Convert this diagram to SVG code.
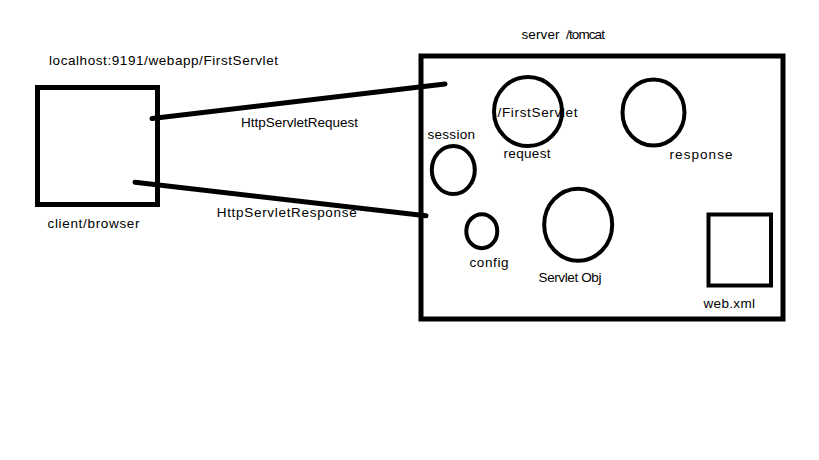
<svg xmlns="http://www.w3.org/2000/svg" width="819" height="460" viewBox="0 0 819 460">
<style>
.bg{fill:#fff}
.box{fill:none;stroke:#000;stroke-width:5}
.ell{fill:none;stroke:#000;stroke-width:4}
.wire{fill:none;stroke:#000;stroke-width:5;stroke-linecap:round}
text{font-family:"Liberation Sans",Arial,sans-serif;font-size:13.5px;fill:#000}
</style>
<rect class="bg" x="0" y="0" width="819" height="460"/>
<g id="client">
<rect class="box" x="37.5" y="87.5" width="120" height="117"/>
<text x="49" y="65" textLength="229">localhost:9191/webapp/FirstServlet</text>
<text x="47.5" y="228" textLength="92">client/browser</text>
</g>
<g id="server">
<rect class="box" x="421" y="56" width="362" height="263"/>
<text x="521.5" y="38.5" textLength="38">server</text>
<text x="566" y="38.5" textLength="39">/tomcat</text>
</g>
<g id="request">
<ellipse class="ell" cx="528" cy="111.5" rx="34" ry="34.5"/>
<text x="497.5" y="116.5" textLength="80">/FirstServlet</text>
<text x="503.5" y="158" textLength="47">request</text>
</g>
<g id="response">
<ellipse class="ell" cx="653.5" cy="112.5" rx="31" ry="33"/>
<text x="669.5" y="159" textLength="63">response</text>
</g>
<g id="session">
<ellipse class="ell" cx="453.3" cy="170" rx="21.5" ry="24"/>
<text x="427.5" y="138.5" textLength="47.5">session</text>
</g>
<g id="config">
<ellipse class="ell" cx="481.8" cy="231.2" rx="15.5" ry="17"/>
<text x="469.5" y="266.5" textLength="39">config</text>
</g>
<g id="servlet-obj">
<ellipse class="ell" cx="578.2" cy="224.7" rx="34" ry="36"/>
<text x="538.5" y="281.5" textLength="63">Servlet Obj</text>
</g>
<g id="web-xml">
<rect class="ell" x="708.5" y="214.5" width="62.5" height="71" stroke-width="4.5"/>
<text x="703.5" y="308" textLength="51.5">web.xml</text>
</g>
<g id="connectors">
<line class="wire" x1="152" y1="118.5" x2="445" y2="84"/>
<line class="wire" x1="135" y1="182.3" x2="426" y2="215.7"/>
<text x="241" y="126.7" textLength="117">HttpServletRequest</text>
<text x="216.7" y="217" textLength="140">HttpServletResponse</text>
</g>
</svg>
